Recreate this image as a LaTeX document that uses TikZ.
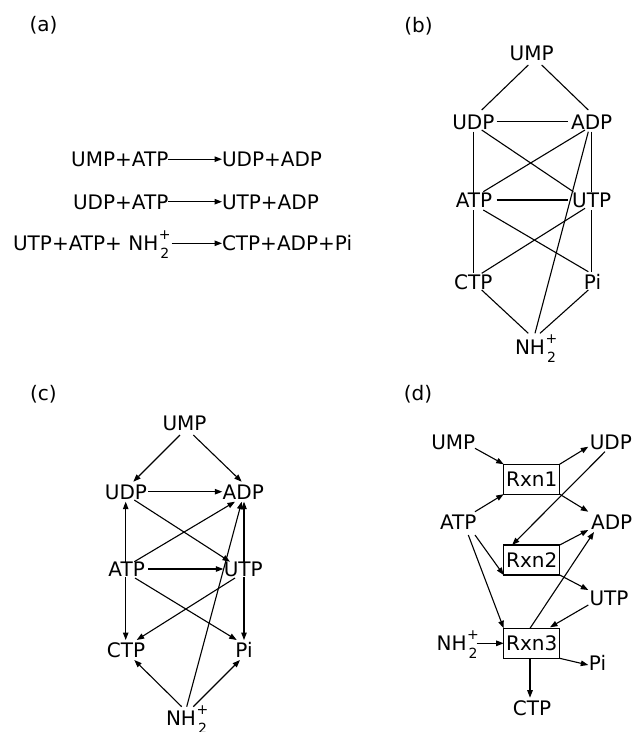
\documentclass[tikz,border=0pt]{standalone}
\usepackage{fontspec}
\setmainfont{DejaVu Sans}
\usetikzlibrary{arrows.meta}

% NH2+ with stacked sub- and superscript (zero width, so the node centre is on "NH")
\newcommand\nhplus{NH\rlap{\kern0.5pt\raisebox{11pt}{\fontsize{14}{14}\selectfont +}}\rlap{\kern2pt\raisebox{-8pt}{\fontsize{14}{14}\selectfont 2}}}

\tikzset{
  lbl/.style={font=\fontsize{20}{24}\selectfont, inner sep=0pt, outer sep=0pt,
              text height=14.6pt, text depth=0pt},
  rxn/.style={lbl, draw, line width=1.1pt, minimum width=56pt, minimum height=30pt},
  ln/.style={line width=1.1pt},
  arr/.style={line width=1.1pt, -{Triangle[length=7.5pt,width=5.5pt]}},
}

\begin{document}
\begin{tikzpicture}[x=1pt, y=-1pt]
\useasboundingbox (0,0) rectangle (632,732);

% ---------------- (a) reaction equations ----------------
\node[lbl] (la) at (43.5,24) {(a)};
\node[lbl, anchor=east] (l1) at (168.3,159.2) {UMP+ATP};
\node[lbl, anchor=west] (r1) at (222,159.2) {UDP+ADP};
\node[lbl, anchor=east] (l2) at (168.3,201.7) {UDP+ATP};
\node[lbl, anchor=west] (r2) at (222,201.7) {UTP+ADP};
\node[lbl, anchor=east] (l3) at (158.3,243.3) {UTP+ATP+ \nhplus};
\node[lbl, anchor=west] (r3) at (222,243.3) {CTP+ADP+Pi};
\draw[arr] (l1.east) -- (r1.west);
\draw[arr] (l2.east) -- (r2.west);
\draw[arr] ([xshift=13.4]l3.east) -- (r3.west);

% ---------------- (b) undirected species graph ----------------
\node[lbl] (lb) at (418.5,25) {(b)};
\node[lbl] (bUMP) at (531.7,53.3) {UMP};
\node[lbl] (bUDP) at (473.3,121.7) {UDP};
\node[lbl] (bADP) at (591.7,121.7) {ADP};
\node[lbl] (bATP) at (474,200) {ATP};
\node[lbl] (bUTP) at (591.7,200) {UTP};
\node[lbl] (bCTP) at (473.3,281.7) {CTP};
\node[lbl] (bPi) at (592.5,281.7) {Pi};
\node[lbl] (bNH) at (530,346.7) {\nhplus};
\draw[ln] ([shift={(-3.4,11.7)}]bUMP.center) -- ([shift={(8.4,-11.7)}]bUDP.center);
\draw[ln] ([shift={(10,11.7)}]bUMP.center) -- ([shift={(-3.4,-11.7)}]bADP.center);
\draw[ln] ([shift={(23.4,0)}]bUDP.center) -- ([shift={(-23.4,0)}]bADP.center);
\draw[ln] ([shift={(0,10)}]bUDP.center) -- ([shift={(-0.7,-6.7)}]bATP.center);
\draw[ln] ([shift={(0,10)}]bADP.center) -- ([shift={(0,-8.3)}]bUTP.center);
\draw[ln] ([shift={(8.4,8.3)}]bUDP.center) -- ([shift={(-18.4,-8.3)}]bUTP.center);
\draw[ln] ([shift={(-6.7,8.3)}]bADP.center) -- ([shift={(9.3,-8.3)}]bATP.center);
\draw[ln] ([shift={(-3.4,10)}]bADP.center) -- ([shift={(5,-13.4)}]bNH.center);
\draw[ln] ([shift={(22.7,0)}]bATP.center) -- ([shift={(-23.4,0)}]bUTP.center);
\draw[ln] ([shift={(-0.7,10)}]bATP.center) -- ([shift={(0,-8.4)}]bCTP.center);
\draw[ln] ([shift={(0,10)}]bUTP.center) -- ([shift={(-0.8,-10)}]bPi.center);
\draw[ln] ([shift={(9.3,10)}]bATP.center) -- ([shift={(-4.2,-10)}]bPi.center);
\draw[ln] ([shift={(-6.7,8.3)}]bUTP.center) -- ([shift={(8.4,-8.4)}]bCTP.center);
\draw[ln] ([shift={(8.4,8.3)}]bCTP.center) -- ([shift={(-1.7,-13.4)}]bNH.center);
\draw[ln] ([shift={(-4.2,8.3)}]bPi.center) -- ([shift={(10,-13.4)}]bNH.center);

% ---------------- (c) directed species graph ----------------
\node[lbl] (lc) at (43.5,393) {(c)};
\node[lbl] (cUMP) at (184.5,423.5) {UMP};
\node[lbl] (cUDP) at (126,491.7) {UDP};
\node[lbl] (cADP) at (243.3,491.7) {ADP};
\node[lbl] (cATP) at (126.7,569) {ATP};
\node[lbl] (cUTP) at (243.3,569) {UTP};
\node[lbl] (cCTP) at (126,650.5) {CTP};
\node[lbl] (cPi) at (244,650.5) {Pi};
\node[lbl] (cNH) at (181,718) {\nhplus};
\draw[arr] ([shift={(-4.5,11.5)}]cUMP.center) -- ([shift={(7.3,-10)}]cUDP.center);
\draw[arr] ([shift={(8.8,11.5)}]cUMP.center) -- ([shift={(-1.6,-10)}]cADP.center);
\draw[arr] ([shift={(22.3,0)}]cUDP.center) -- ([shift={(-21,0)}]cADP.center);
\draw[arr] ([shift={(-1,-6)}]cATP.center) -- ([shift={(-0.3,10)}]cUDP.center);
\draw[arr] ([shift={(8.3,8.3)}]cUDP.center) -- ([shift={(-13.3,-7.3)}]cUTP.center);
\draw[arr] ([shift={(7.6,-7.3)}]cATP.center) -- ([shift={(-8.3,10)}]cADP.center);
\draw[arr] ([shift={(21.6,0)}]cATP.center) -- ([shift={(-20,0)}]cUTP.center);
\draw[arr] ([shift={(0.7,-6)}]cUTP.center) -- ([shift={(0.7,10)}]cADP.center);
\draw[arr] ([shift={(5.7,-11.3)}]cNH.center) -- ([shift={(-1.6,10)}]cADP.center);
\draw[arr] ([shift={(-1,8)}]cATP.center) -- ([shift={(-0.3,-10.5)}]cCTP.center);
\draw[arr] ([shift={(8.3,9)}]cATP.center) -- ([shift={(-7.3,-10.5)}]cPi.center);
\draw[arr] ([shift={(-8.3,9)}]cUTP.center) -- ([shift={(10.7,-10.5)}]cCTP.center);
\draw[arr] ([shift={(0.7,8)}]cUTP.center) -- ([shift={(0,-10.5)}]cPi.center);
\draw[arr] ([shift={(0.7,-11.3)}]cNH.center) -- ([shift={(8.3,9.5)}]cCTP.center);
\draw[arr] ([shift={(12.3,-11.3)}]cNH.center) -- ([shift={(-4,9.5)}]cPi.center);

% ---------------- (d) bipartite reaction graph ----------------
\node[lbl] (ld) at (418,393) {(d)};
\node[lbl] (dUMP) at (453.3,441.7) {UMP};
\node[lbl] (dUDP) at (610.8,441.7) {UDP};
\node[lbl] (dATP) at (458.3,521.7) {ATP};
\node[lbl] (dADP) at (611.7,521.7) {ADP};
\node[lbl] (dUTP) at (609,598.3) {UTP};
\node[lbl] (dNH) at (451.7,643.3) {\nhplus};
\node[lbl] (dPi) at (597.5,662.7) {Pi};
\node[lbl] (dCTP) at (532,708.3) {CTP};
\node[rxn] (R1) at (531.7,479.2) {Rxn1};
\node[rxn] (R2) at (531.7,560) {Rxn2};
\node[rxn] (R3) at (531.7,643.3) {Rxn3};
\draw[arr] ([shift={(21.7,6.6)}]dUMP.center) -- (R1.north west);
\draw[arr] ([shift={(16.7,-10)}]dATP.center) -- (R1.south west);
\draw[arr] (R1.north east) -- ([shift={(-22.5,5)}]dUDP.center);
\draw[arr] (R1.south east) -- ([shift={(-23.4,-10)}]dADP.center);
\draw[arr] ([shift={(-5.8,10)}]dUDP.center) -- ([xshift=8.4]R2.north west);
\draw[arr] ([shift={(16.7,13.3)}]dATP.center) -- (R2.south west);
\draw[arr] ([shift={(10,13.3)}]dATP.center) -- (R3.north west);
\draw[arr] (R2.north east) -- ([shift={(-23.4,8.3)}]dADP.center);
\draw[arr] (R2.south east) -- ([shift={(-20.7,-8.3)}]dUTP.center);
\draw[arr] ([shift={(-20.7,6.7)}]dUTP.center) -- ([shift={(18.3,-1)}]R3.north);
\draw[arr] ([xshift=-1.7]R3.north) -- ([shift={(-17.7,10.3)}]dADP.center);
\draw[arr] ([xshift=25]dNH.center) -- (R3.west);
\draw[arr] (R3.south east) -- ([shift={(-9.2,2.3)}]dPi.center);
\draw[arr] ([xshift=-1.7]R3.south) -- ([shift={(-2,-10.6)}]dCTP.center);
\end{tikzpicture}
\end{document}
